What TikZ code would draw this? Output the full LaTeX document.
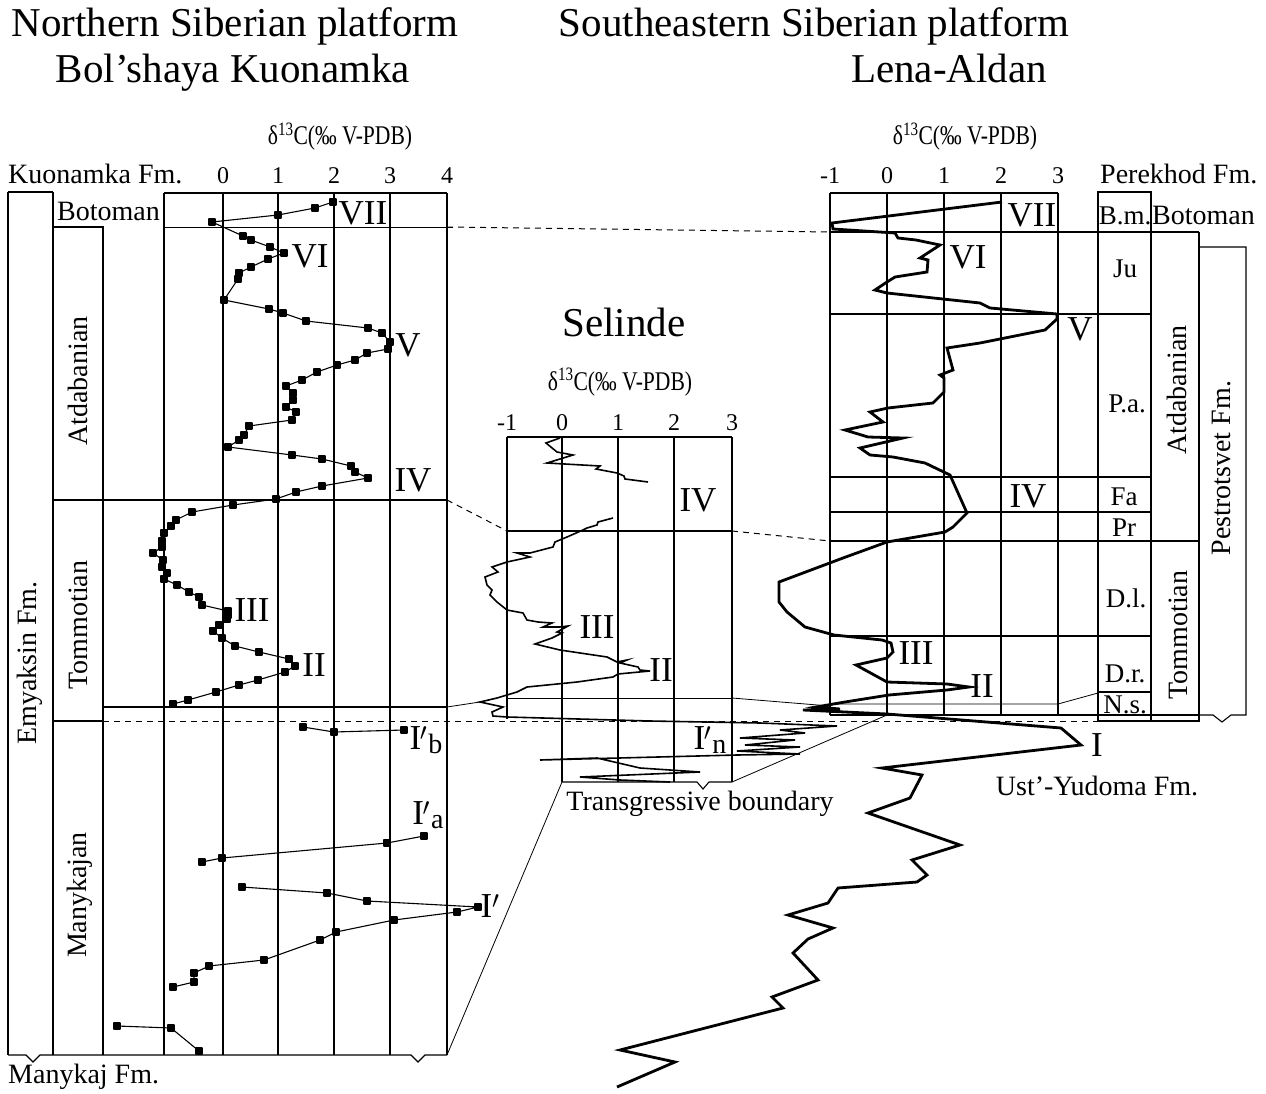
\documentclass[tikz,border=0pt]{standalone}
\usepackage{fontspec}
\setmainfont{Liberation Serif}
\usepackage{graphicx}
\usepackage{tikz}
\usetikzlibrary{positioning,plotmarks}

\newcommand{\dlabel}{\scalebox{0.8}[1]{δ\textsuperscript{13}C(‰ V-PDB)}}
\newcommand{\Ipr}[1]{I\kern-0.04em$^{\prime}$\kern0.03em\raisebox{-0.12em}{\fontsize{28}{28}\selectfont #1}}

\begin{document}
\begin{tikzpicture}[x=1pt, y=-1pt,
    gridline/.style={line width=1.1pt},
    thinline/.style={line width=0.8pt},
    corr/.style={line width=1pt, dash pattern=on 6pt off 5pt},
    ttl/.style={font=\fontsize{41}{45}\selectfont, inner sep=0pt},
    lab/.style={font=\fontsize{28}{30}\selectfont, inner sep=0pt},
    mem/.style={font=\fontsize{27}{29}\selectfont, inner sep=0pt},
    num/.style={font=\fontsize{24}{26}\selectfont, inner sep=0pt},
    rom/.style={font=\fontsize{35}{37}\selectfont, inner sep=0pt},
    dlab/.style={font=\fontsize{27}{29}\selectfont, inner sep=0pt},
    curveK/.style={line width=1.1pt, line join=round, mark=square*, mark size=3pt},
    curveS/.style={line width=1.6pt, line join=miter},
    curveL/.style={line width=2.8pt, line join=miter}]

\fill[white] (0,0) rectangle (1266,1094);
\useasboundingbox (0,0) rectangle (1266,1094);

% titles
\node[ttl, anchor=base] (ttlN) at (235,37) {Northern Siberian platform};
\node[ttl, anchor=base] (ttlK) at (233,83) {Bol’shaya Kuonamka};
\node[ttl, anchor=base] (ttlS) at (814,37) {Southeastern Siberian platform};
\node[ttl, anchor=base] (ttlL) at (949,83) {Lena-Aldan};
\node[ttl, anchor=base] (ttlSel) at (624,336) {Selinde};

% ---- Bol'shaya Kuonamka ----
\node[dlab, anchor=base] (dK) at (340,145) {\dlabel};
\node[lab, anchor=base west] (fmK) at (8,184) {Kuonamka Fm.};
\foreach \v/\x in {0/223,1/278,2/334,3/390,4/447}
    \node[num, anchor=base] (nK\v) at (\x,184) {\v};

\draw[gridline] (8,192) -- (53,192);
\draw[gridline] (8,192) -- (8,1055);
\draw[gridline] (53,192) -- (53,1055);
\draw[gridline] (53,227) -- (103,227) -- (103,1055);
\foreach \x in {164,223,278,334,390,447}
    \draw[gridline] (\x,193) -- (\x,1055);
\draw[gridline] (164,193) -- (447,193);
\draw[thinline] (164,227) -- (453,227);
\draw[gridline] (53,500) -- (447,500);
\draw[gridline] (103,707) -- (447,707);
\draw[gridline] (53,721) -- (103,721);
\draw[gridline] (8,1055) -- (26,1055) -- (33,1062) -- (40,1055) -- (411,1055)
    -- (418,1062) -- (425,1055) -- (447,1055);

\node[lab, anchor=base west] (botK) at (57,221) {Botoman};
\node[lab, rotate=90] (emyK) at (30,663) {Emyaksin Fm.};
\node[lab, rotate=90] (atdK) at (78,381) {Atdabanian};
\node[lab, rotate=90] (tomK) at (78,625) {Tommotian};
\node[lab, rotate=90] (manK) at (80,895) {Manykajan};
\node[lab, anchor=base west] (fmM) at (8,1083) {Manykaj Fm.};

\draw[curveK] plot coordinates {(333,202) (315,208) (278,215) (212,222) (243,236)
    (251,240) (270,247) (284,253) (268,259) (251,267) (239,273) (238,279) (224,300)
    (269,309) (283,313) (306,321) (368,328) (382,333) (390,342) (388,349) (367,353)
    (355,360) (337,365) (317,372) (302,380) (286,386) (293,393) (293,400) (286,407)
    (296,412) (292,420) (249,426) (244,435) (239,440) (228,447) (292,455) (322,459)
    (351,466) (355,472) (368,478) (322,486) (296,492) (276,499) (233,505) (192,512)
    (176,520) (171,526) (164,533) (162,541) (162,547) (153,553) (163,560) (162,567)
    (167,573) (164,579) (177,585) (189,592) (199,597) (202,605) (228,611) (228,615)
    (227,619) (219,625) (213,631) (222,638) (235,646) (259,652) (289,659) (295,666)
    (285,672) (258,680) (239,685) (216,692) (188,700) (173,704)};
\draw[curveK] plot coordinates {(303,727) (334,732) (404,730)};
\draw[curveK] plot coordinates {(424,836) (387,843) (222,858) (202,862)};
\draw[curveK] plot coordinates {(242,887) (327,893) (367,901) (478,907) (457,912)
    (394,920) (336,932) (320,940) (264,960) (209,966) (194,973) (194,982) (173,987)};
\draw[curveK] plot coordinates {(117,1026) (171,1028) (199,1051)};

\node[rom] (k7) at (363,213) {VII};
\node[rom] (k6) at (310,256) {VI};
\node[rom] (k5) at (408,345) {V};
\node[rom] (k4) at (413,480) {IV};
\node[rom] (k3) at (252,610) {III};
\node[rom] (k2) at (314,665) {II};
\node[rom] (k1b) at (426,740) {\Ipr{b}};
\node[rom] (k1a) at (428,815) {\Ipr{a}};
\node[rom] (k1) at (490,906) {I$^{\prime}$};

% ---- Selinde ----
\node[dlab, anchor=base] (dS) at (620,390) {\dlabel};
\foreach \v/\x in {-1/507,0/562,1/618,2/674,3/732}
    \node[num, anchor=base] (nS\v) at (\x,430) {\v};
\draw[gridline] (507,437) -- (732,437);
\draw[gridline] (507,437) -- (507,719);
\foreach \x in {562,618,674,732}
    \draw[gridline] (\x,437) -- (\x,782);
\draw[gridline] (507,531) -- (732,531);
\draw[thinline] (507,698) -- (732,698);
\draw[gridline] (562,782) -- (697,782) -- (703,789) -- (709,782) -- (732,782);

\draw[curveS] (560,438) -- (546,443) -- (557,452) -- (573,455) -- (547,463)
    -- (600,466) -- (596,469) -- (617,473) -- (624,476) -- (625,479) -- (648,482);
\draw[curveS] (613,518) -- (598,522) -- (597,525) -- (587,528) -- (583,530)
    -- (567,537) -- (555,542) -- (553,547) -- (530,553) -- (517,553) -- (530,557)
    -- (507,562) -- (492,567) -- (498,572) -- (485,577) -- (487,585) -- (492,590)
    -- (490,595) -- (497,602) -- (507,610) -- (523,613) -- (527,620) -- (538,622)
    -- (552,623) -- (543,627) -- (560,627) -- (568,626) -- (557,632) -- (562,633)
    -- (552,638) -- (535,644) -- (560,650) -- (607,657) -- (617,662) -- (627,660)
    -- (620,663) -- (638,667) -- (640,670) -- (650,671) -- (618,674) -- (613,677)
    -- (577,682) -- (547,685) -- (527,687) -- (517,692) -- (507,695) -- (497,698)
    -- (480,702) -- (503,707) -- (492,712) -- (493,716) -- (507,717) -- (650,721)
    -- (760,723) -- (837,726) -- (780,730) -- (805,733) -- (740,738) -- (795,740)
    -- (745,745) -- (800,747) -- (737,751) -- (800,754) -- (737,755) -- (540,760)
    -- (597,758) -- (640,768) -- (700,772) -- (580,777) -- (620,780) -- (670,782);

\node[rom] (s4) at (698,500) {IV};
\node[rom] (s3) at (597,627) {III};
\node[rom] (s2) at (661,670) {II};
\node[rom] (s1n) at (710,740) {\Ipr{n}};
\node[lab, anchor=base] (trb) at (700,810) {Transgressive boundary};

% ---- Lena-Aldan ----
\node[dlab, anchor=base] (dL) at (965,145) {\dlabel};
\foreach \v/\x in {-1/830,0/887,1/944,2/1001,3/1058}
    \node[num, anchor=base] (nL\v) at (\x,184) {\v};
\node[lab, anchor=base west] (fmP) at (1100,184) {Perekhod Fm.};

\draw[gridline] (830,193) -- (1058,193);
\foreach \x in {830,887,944,1001,1058}
    \draw[gridline] (\x,193) -- (\x,715);
\draw[gridline] (1098,722) -- (1098,192) -- (1151,192) -- (1151,722);
\draw[gridline] (1199,232) -- (1199,722);
\draw[gridline] (1199,247) -- (1246,247) -- (1246,715) -- (1231,715) -- (1222,722)
    -- (1213,715) -- (1199,715);
\draw[gridline] (830,232) -- (1199,232);
\foreach \y in {314,477,512,636}
    \draw[gridline] (830,\y) -- (1151,\y);
\draw[gridline] (830,541) -- (1199,541);
\draw[thinline] (830,704) -- (1058,704) -- (1098,693);
\draw[gridline] (1098,692) -- (1151,692);
\draw[gridline] (830,715) -- (1199,715);
\draw[gridline] (1098,721) -- (1199,721);

\node[mem, anchor=base] (bmL) at (1125,225) {B.m.};
\node[lab, anchor=base west] (botL) at (1152,225) {Botoman};
\node[mem, anchor=base] (juL) at (1125,277) {Ju};
\node[mem, anchor=base] (paL) at (1127,412) {P.a.};
\node[mem, anchor=base] (faL) at (1124,505) {Fa};
\node[mem, anchor=base] (prL) at (1124,536) {Pr};
\node[mem, anchor=base] (dlL) at (1126,607) {D.l.};
\node[mem, anchor=base] (drL) at (1125,682) {D.r.};
\node[mem, anchor=base] (nsL) at (1125,713) {N.s.};
\node[lab, rotate=90] (atdL) at (1177,390) {Atdabanian};
\node[lab, rotate=90] (tomL) at (1178,635) {Tommotian};
\node[lab, rotate=90] (pesL) at (1222,468) {Pestrotsvet Fm.};

\draw[curveL] (1002,202) -- (832,223) -- (833,229) -- (895,233) -- (898,238)
    -- (916,240) -- (940,245) -- (920,258) -- (928,260) -- (927,272) -- (895,277)
    -- (887,282) -- (875,290) -- (887,293) -- (980,303) -- (990,308) -- (1057,314)
    -- (1057,319) -- (1045,330) -- (980,343) -- (947,348) -- (953,370) -- (940,375)
    -- (944,378) -- (944,392) -- (933,403) -- (888,408) -- (870,412) -- (883,422)
    -- (845,430) -- (868,437) -- (903,438) -- (860,448) -- (870,455) -- (893,457)
    -- (925,463) -- (950,475) -- (967,513) -- (953,527) -- (945,532) -- (887,542)
    -- (843,558) -- (779,582) -- (779,602) -- (787,612) -- (805,627) -- (834,635)
    -- (882,640) -- (891,643) -- (893,652) -- (887,658) -- (856,665) -- (887,682)
    -- (947,684) -- (969,687) -- (947,690) -- (889,695) -- (845,702) -- (816,707)
    -- (840,709) -- (803,710) -- (845,712) -- (887,714) -- (1061,728) -- (1081,745)
    -- (882,768) -- (922,775) -- (910,798) -- (868,813) -- (960,845) -- (912,860)
    -- (927,875) -- (917,882) -- (838,888) -- (828,903) -- (788,915) -- (833,928)
    -- (808,939) -- (793,953) -- (818,980) -- (772,997) -- (783,1008) -- (620,1050)
    -- (675,1062) -- (617,1087);

\node[rom] (l7) at (1032,215) {VII};
\node[rom] (l6) at (968,257) {VI};
\node[rom] (l5) at (1080,329) {V};
\node[rom] (l4) at (1028,496) {IV};
\node[rom] (l3) at (916,653) {III};
\node[rom] (l2) at (982,686) {II};
\node[rom] (l1) at (1097,745) {I};
\node[lab, anchor=base] (fmU) at (1097,795) {Ust’-Yudoma Fm.};

% correlation lines
\coordinate (kBot) at (447,227);
\coordinate (lBot) at (830,232);
\coordinate (kAT) at (447,500);
\coordinate (sATl) at (507,531);
\coordinate (sATr) at (732,531);
\coordinate (lAT) at (830,541);
\coordinate (kTM) at (447,707);
\coordinate (sTMl) at (480,702);
\coordinate (sTMr) at (732,698);
\coordinate (lTM) at (830,706);
\coordinate (kBase) at (103,721);
\coordinate (lBase) at (1098,721);
\coordinate (sBL) at (562,782);
\coordinate (kBR) at (447,1055);
\coordinate (sBR) at (732,782);
\coordinate (lBL) at (887,715);
\draw[corr] (kBot) -- (lBot);
\draw[corr] (kAT) -- (sATl);
\draw[corr] (sATr) -- (lAT);
\draw[thinline] (kTM) -- (sTMl);
\draw[thinline] (sTMr) -- (lTM);
\draw[corr] (kBase) -- (lBase);
\draw[thinline] (sBL) -- (kBR);
\draw[thinline] (sBR) -- (lBL);
\end{tikzpicture}
\end{document}
